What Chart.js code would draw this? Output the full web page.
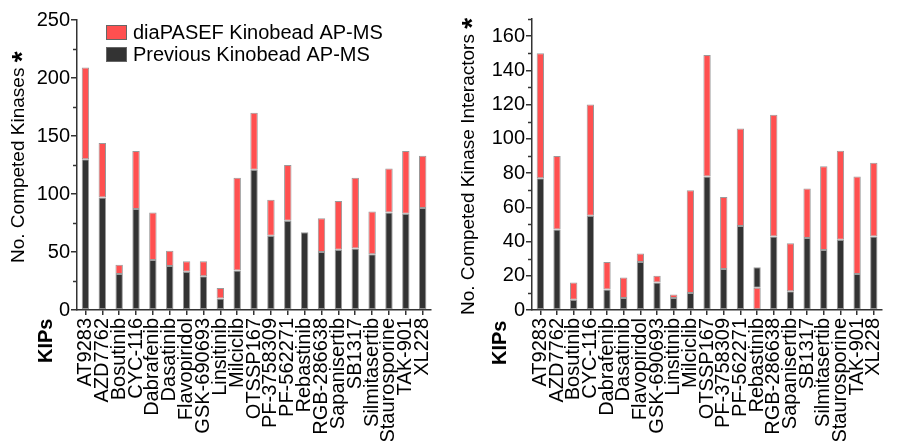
<!DOCTYPE html>
<html>
<head>
<meta charset="utf-8">
<script src="https://cdn.jsdelivr.net/npm/chart.js@4.4.0/dist/chart.umd.min.js"></script>
<style>
  html, body { margin: 0; padding: 0; background: #fff; }
  #wrap { position: relative; width: 901px; height: 441px; }
  canvas { position: absolute; top: 0; }
  #left { left: 0; }
  #right { left: 450px; }
</style>
</head>
<body>
<div id="wrap">
  <canvas id="left" width="450" height="441"></canvas>
  <canvas id="right" width="451" height="441"></canvas>
</div>
<script>
// Data
const kips = ["AT9283", "AZD7762", "Bosutinib", "CYC-116", "Dabrafenib", "Dasatinib",
  "Flavopiridol", "GSK-690693", "Linsitinib", "Milciclib", "OTSSP167", "PF-3758309",
  "PF-562271", "Rebastinib", "RGB-286638", "Sapanisertib", "SB1317", "Silmitasertib",
  "Staurosporine", "TAK-901", "XL228"];

// competed kinases
const kinasesPrevious = [130, 97, 31, 87, 43, 38, 33, 29, 10, 34, 121, 64, 77, 67, 50, 52, 53, 48, 84, 83, 88];
const kinasesDiaPASEF = [209, 144, 39, 137, 84, 51, 42, 42, 19, 114, 170, 95, 125, 67, 79, 94, 114, 85, 122, 137, 133];

// competed kinase interactors
const interactorsPrevious = [77, 47, 6, 55, 12, 7, 28, 16, 7, 10, 78, 24, 49, 25, 43, 11, 42, 35, 41, 21, 43];
const interactorsDiaPASEF = [150, 90, 16, 120, 28, 19, 33, 20, 9, 70, 149, 66, 106, 13, 114, 39, 71, 84, 93, 78, 86];

const RED = '#ff5050';
const DARK = '#333333';
const EDGE = '#9a9a9a';
const FONT = "'Liberation Sans', Arial, sans-serif";
const FS = 20;

Chart.defaults.font.family = FONT;
Chart.defaults.color = '#000';

// red segment sits on the black one, unless the new total is lower (then it is drawn under it)
function redSegments(prev, total) {
  return prev.map((p, i) => {
    const t = total[i];
    if (t === p) return null;
    return t > p ? [p, t] : [0, t];
  });
}
function darkSegments(prev, total) {
  return prev.map((p, i) => {
    const t = total[i];
    return t >= p ? [0, p] : [t, p];
  });
}

// extra drawing: axis title, minor ticks, KIPs label, legend
const decor = {
  id: 'decor',
  afterDraw(chart, args, o) {
    const ctx = chart.ctx;
    const y = chart.scales.y;
    const x = chart.scales.x;
    ctx.save();
    // minor ticks
    ctx.strokeStyle = '#333';
    ctx.lineWidth = 1.5;
    for (let v = o.minorStep; v <= y.max + 0.01; v += o.minorStep * 2) {
      const py = Math.round(y.getPixelForValue(v)) + 0.5;
      ctx.beginPath();
      ctx.moveTo(x.left - 4, py);
      ctx.lineTo(x.left, py);
      ctx.stroke();
    }
    // y title
    ctx.fillStyle = '#000';
    ctx.translate(o.titleX, o.titleBottom);
    ctx.rotate(-Math.PI / 2);
    ctx.textBaseline = 'middle';
    ctx.textAlign = 'left';
    ctx.font = '19px ' + FONT;
    ctx.fillText(o.title, 0, 0);
    const w = ctx.measureText(o.title + ' ').width;
    ctx.font = 'bold 28px ' + FONT;
    ctx.fillText('*', w, 4);
    ctx.restore();

    // KIPs
    ctx.save();
    ctx.translate(o.kipsX, o.kipsBottom);
    ctx.rotate(-Math.PI / 2);
    ctx.textBaseline = 'middle';
    ctx.textAlign = 'left';
    ctx.font = 'bold ' + FS + 'px ' + FONT;
    ctx.fillStyle = '#000';
    ctx.fillText('KIPs', 0, 0);
    ctx.restore();

    if (o.legend) {
      ctx.save();
      const items = [chart.data.datasets[0], chart.data.datasets[1]];
      items.forEach((ds, i) => {
        const top = 25 + i * 22;
        ctx.fillStyle = ds.backgroundColor;
        ctx.fillRect(106, top, 21, 15);
        ctx.strokeStyle = '#666';
        ctx.lineWidth = 1;
        ctx.strokeRect(106.5, top + 0.5, 20, 14);
        ctx.fillStyle = '#000';
        ctx.font = FS + 'px ' + FONT;
        ctx.textBaseline = 'middle';
        ctx.textAlign = 'left';
        ctx.fillText(ds.label, 133, top + 8);
      });
      ctx.restore();
    }
  }
};

function makeChart(id, prev, total, yMax, step, yWidth, padRight, padTop, decorOpts) {
  const ctx = document.getElementById(id).getContext('2d');
  const minor = decorOpts.minorStep;
  return new Chart(ctx, {
    type: 'bar',
    data: {
      labels: kips,
      datasets: [
        {
          label: 'diaPASEF Kinobead AP-MS',
          data: redSegments(prev, total),
          backgroundColor: RED,
          borderColor: EDGE,
          borderWidth: 1,
          borderSkipped: false,
          barPercentage: 0.44,
          categoryPercentage: 1
        },
        {
          label: 'Previous Kinobead AP-MS',
          data: darkSegments(prev, total),
          backgroundColor: DARK,
          borderColor: EDGE,
          borderWidth: 1,
          borderSkipped: false,
          barPercentage: 0.44,
          categoryPercentage: 1
        }
      ]
    },
    options: {
      responsive: false,
      animation: false,
      devicePixelRatio: 1,
      layout: { padding: { top: padTop, right: padRight, left: 0, bottom: 0 } },
      plugins: {
        legend: { display: false },
        tooltip: { enabled: false },
        decor: decorOpts
      },
      scales: {
        x: {
          stacked: true,
          offset: true,
          border: { display: true, color: '#333', width: 1.5 },
          grid: { display: true, drawOnChartArea: false, offset: false, tickLength: 5, color: '#333', lineWidth: 1.5 },
          ticks: { minRotation: 90, maxRotation: 90, autoSkip: false, padding: 3, font: { size: FS }, color: '#000' },
          afterFit: s => { s.height = 131; }
        },
        y: {
          stacked: false,
          min: 0,
          max: yMax,
          border: { display: true, color: '#333', width: 1.5 },
          grid: {
            display: true, drawOnChartArea: false, tickLength: 6, lineWidth: 1.5,
            tickColor: c => (c.tick && c.tick.value % step === 0) ? '#333' : 'rgba(0,0,0,0)'
          },
          ticks: {
            stepSize: minor, padding: 1, font: { size: FS }, color: '#000', autoSkip: false,
            callback: v => (v % step === 0 ? v : '')
          },
          afterFit: s => { s.width = yWidth; }
        }
      }
    },
    plugins: [decor]
  });
}

makeChart('left', kinasesPrevious, kinasesDiaPASEF, 250, 50, 77, 13, 20, {
  minorStep: 25, title: 'No. Competed Kinases', titleX: 19, titleBottom: 263,
  kipsX: 46, kipsBottom: 363, legend: true
});

makeChart('right', interactorsPrevious, interactorsDiaPASEF, 170, 20, 82, 9, 19, {
  minorStep: 10, title: 'No. Competed Kinase Interactors', titleX: 19, titleBottom: 315,
  kipsX: 50, kipsBottom: 365, legend: false
});
</script>
</body>
</html>
